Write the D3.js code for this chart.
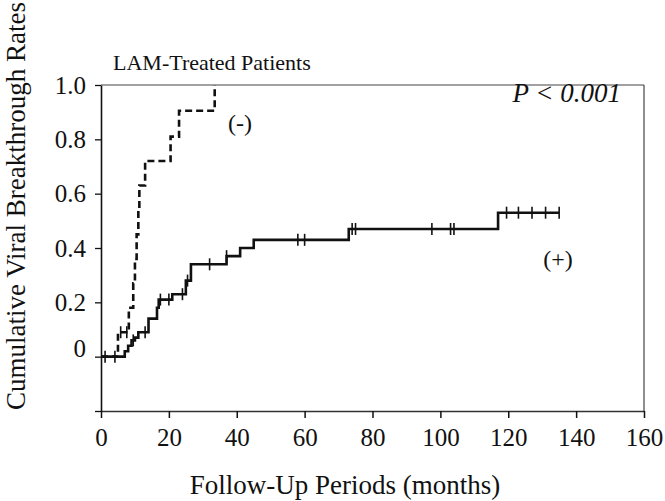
<!DOCTYPE html>
<html>
<head>
<meta charset="utf-8">
<script src="https://cdn.jsdelivr.net/npm/d3@7"></script>
<style>
  body { margin: 0; background: #fff; }
  svg { display: block; font-family: "Liberation Serif", "Times New Roman", serif; }
</style>
</head>
<body>
<div id="chart"></div>
<script>
// axis ticks
const xTicks = [0, 20, 40, 60, 80, 100, 120, 140, 160];
const yTicks = [-0.2, 0, 0.2, 0.4, 0.6, 0.8, 1.0];

// (-) group: step times (months) and cumulative rates
const negTimes = [0, 5, 8.2, 9.5, 10, 10.5, 11, 11.3, 13, 20.5, 23, 33.5];
const negRates = [0, 0.09, 0.18, 0.27, 0.36, 0.45, 0.54, 0.63, 0.72, 0.81, 0.905, 1.0];
const negCensor = [5.8, 7.6];

// (+) group
const posTimes = [0, 7, 8, 9, 10, 11, 14, 16.5, 17, 21, 25, 26.5, 37, 41, 45, 73, 117, 135];
const posRates = [0, 0.02, 0.04, 0.06, 0.07, 0.09, 0.14, 0.18, 0.21, 0.23, 0.28, 0.34, 0.37, 0.40, 0.43, 0.47, 0.53, 0.53];
const posCensor = [1.2, 4.1, 9.5, 13, 17.5, 20, 24, 25.5, 32, 37, 58, 60, 74, 75, 97.5, 103, 104, 119.5, 123, 127, 131, 135];

const width = 665, height = 501;
const svg = d3.select("#chart").append("svg")
    .attr("width", width)
    .attr("height", height);

const x = d3.scaleLinear().domain([0, 160]).range([101, 644]);
const y = d3.scaleLinear().domain([-0.2, 1.0]).range([411, 85]);

// frame: top and right lines
svg.append("line")
    .attr("x1", x(0)).attr("x2", x(160))
    .attr("y1", y(1)).attr("y2", y(1))
    .attr("stroke", "#444").attr("stroke-width", 1.2);
svg.append("line")
    .attr("x1", x(160)).attr("x2", x(160))
    .attr("y1", y(1)).attr("y2", y(-0.2))
    .attr("stroke", "#444").attr("stroke-width", 1.2);

// x axis
const xAxis = svg.append("g")
    .attr("transform", `translate(0, ${y(-0.2)})`)
    .call(d3.axisBottom(x).tickValues(xTicks).tickSize(7).tickSizeOuter(0).tickPadding(10));
xAxis.select(".domain").attr("stroke", "#333").attr("stroke-width", 1.3);
xAxis.selectAll(".tick line").attr("stroke", "#111").attr("stroke-width", 1.5);
xAxis.selectAll("text")
    .attr("font-size", "25px")
    .attr("font-family", "Liberation Serif")
    .attr("fill", "#111");

// y axis
const yAxis = svg.append("g")
    .attr("transform", `translate(${x(0)}, 0)`)
    .call(d3.axisLeft(y).tickValues(yTicks).tickSize(6).tickSizeOuter(0).tickPadding(9)
        .tickFormat(d => d < -0.1 ? "" : (d === 0 ? "0" : d3.format(".1f")(d))));
yAxis.select(".domain").attr("stroke", "#111").attr("stroke-width", 1.6);
yAxis.selectAll(".tick line").attr("stroke", "#111").attr("stroke-width", 1.3);
yAxis.selectAll("text")
    .attr("font-size", "25px")
    .attr("font-family", "Liberation Serif")
    .attr("fill", "#111");
// the "0" label sits a little high in the original
yAxis.selectAll(".tick text").filter(d => d === 0).attr("y", -8);

// survival-type step curves
const step = d3.line()
    .x(d => x(d[0]))
    .y(d => y(d[1]))
    .curve(d3.curveStepAfter);

const negPts = negTimes.map((t, i) => [t, negRates[i]]);
const posPts = posTimes.map((t, i) => [t, posRates[i]]);

svg.append("path")
    .datum(negPts)
    .attr("d", step)
    .attr("fill", "none")
    .attr("stroke", "#111")
    .attr("stroke-width", 2.6)
    .attr("stroke-dasharray", "7,4");

svg.append("path")
    .datum(posPts)
    .attr("d", step)
    .attr("fill", "none")
    .attr("stroke", "#111")
    .attr("stroke-width", 2.6);

// rate at time t for a step curve
function rateAt(times, rates, t) {
    let r = rates[0];
    for (let i = 0; i < times.length; i++) if (times[i] <= t) r = rates[i];
    return r;
}

// censoring marks
svg.selectAll("line.neg-censor")
    .data(negCensor)
    .enter().append("line")
    .attr("class", "neg-censor")
    .attr("x1", d => x(d)).attr("x2", d => x(d))
    .attr("y1", d => y(rateAt(negTimes, negRates, d)) - 6)
    .attr("y2", d => y(rateAt(negTimes, negRates, d)) + 6)
    .attr("stroke", "#111").attr("stroke-width", 1.6);

svg.selectAll("line.pos-censor")
    .data(posCensor)
    .enter().append("line")
    .attr("class", "pos-censor")
    .attr("x1", d => x(d)).attr("x2", d => x(d))
    .attr("y1", d => y(rateAt(posTimes, posRates, d)) - 6)
    .attr("y2", d => y(rateAt(posTimes, posRates, d)) + 6)
    .attr("stroke", "#111").attr("stroke-width", 1.6);

// labels
svg.append("text")
    .attr("x", 113).attr("y", 70)
    .attr("font-size", "22px").attr("fill", "#111")
    .text("LAM-Treated Patients");

svg.append("text")
    .attr("x", 240).attr("y", 131)
    .attr("text-anchor", "middle")
    .attr("font-size", "24px").attr("fill", "#111")
    .text("(-)");

svg.append("text")
    .attr("x", 558).attr("y", 267)
    .attr("text-anchor", "middle")
    .attr("font-size", "24px").attr("fill", "#111")
    .text("(+)");

svg.append("text")
    .attr("x", 621).attr("y", 102)
    .attr("text-anchor", "end")
    .attr("font-size", "27px").attr("font-style", "italic").attr("fill", "#111")
    .text("P < 0.001");

svg.append("text")
    .attr("x", 345).attr("y", 494)
    .attr("text-anchor", "middle")
    .attr("font-size", "27px").attr("fill", "#111")
    .text("Follow-Up Periods (months)");

svg.append("text")
    .attr("transform", "translate(25, 206) rotate(-90)")
    .attr("text-anchor", "middle")
    .attr("font-size", "27px").attr("fill", "#111")
    .text("Cumulative Viral Breakthrough Rates");
</script>
</body>
</html>
